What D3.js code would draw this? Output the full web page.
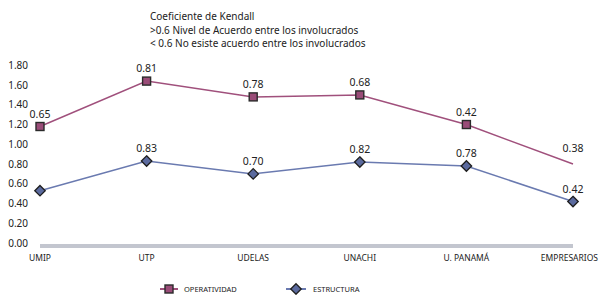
<!DOCTYPE html>
<html>
<head>
<meta charset="utf-8">
<script src="https://cdn.jsdelivr.net/npm/d3@7"></script>
<style>
  body { margin: 0; background: #fff; }
  svg { font-family: "Noto Sans", sans-serif; }
</style>
</head>
<body>
<svg id="chart"></svg>
<script>
const categories = ["UMIP", "UTP", "UDELAS", "UNACHI", "U. PANAMÁ", "EMPRESARIOS"];
const estructura = [0.53, 0.83, 0.70, 0.82, 0.78, 0.42];
const operatividad = [0.65, 0.81, 0.78, 0.68, 0.42, 0.38];
// which points carry a value label / marker in the original
const estructuraLabel = [false, true, true, true, true, true];
const operatividadMarker = [true, true, true, true, true, false];
const yTicks = [0, 0.2, 0.4, 0.6, 0.8, 1.0, 1.2, 1.4, 1.6, 1.8];
const titleLines = [
  "Coeficiente de Kendall",
  ">0.6 Nivel de Acuerdo entre los involucrados",
  "< 0.6 No esiste acuerdo entre los involucrados"
];

const width = 599, height = 295;
const colOp = "#a0507c", colOpFill = "#9a4c78";
const colEs = "#6a7ab0", colEsFill = "#5b6a9e";

const svg = d3.select("#chart").attr("width", width).attr("height", height);

const x = d3.scalePoint().domain(categories).range([40, 573]);
const y = d3.scaleLinear().domain([0, 1.8]).range([243, 65.3]);

// stacked values
const rows = categories.map((c, i) => ({
  cat: c,
  es: estructura[i],
  op: operatividad[i],
  top: estructura[i] + operatividad[i],
  i: i
}));

// title
svg.append("g").attr("class", "title")
  .selectAll("text")
  .data(titleLines)
  .enter()
  .append("text")
  .attr("x", 150)
  .attr("y", (d, i) => 20 + i * 13.5)
  .attr("font-size", 10)
  .attr("fill", "#222")
  .text((d) => d);

// y axis labels
svg.append("g").attr("class", "y-labels")
  .selectAll("text")
  .data(yTicks)
  .enter()
  .append("text")
  .attr("x", 28)
  .attr("y", (d) => y(d) + 3.5)
  .attr("text-anchor", "end")
  .attr("font-size", 10)
  .attr("fill", "#222")
  .text(d3.format(".2f"));

// floor
svg.append("rect")
  .attr("x", x(categories[0]))
  .attr("y", y(0) + 1)
  .attr("width", x(categories[categories.length - 1]) - x(categories[0]))
  .attr("height", 4)
  .attr("fill", "#c3c6cf");

// category labels (last one kept inside the frame)
const lastCat = categories[categories.length - 1];
svg.append("g").attr("class", "x-labels")
  .selectAll("text")
  .data(categories)
  .enter()
  .append("text")
  .attr("x", (d) => d === lastCat ? width - 1 : x(d))
  .attr("y", 261)
  .attr("text-anchor", (d) => d === lastCat ? "end" : "middle")
  .attr("font-size", 8.5)
  .attr("fill", "#222")
  .text((d) => d);

// lines
const lineEs = d3.line().x((d) => x(d.cat)).y((d) => y(d.es));
const lineOp = d3.line().x((d) => x(d.cat)).y((d) => y(d.top));

svg.append("path").datum(rows)
  .attr("d", lineEs).attr("fill", "none")
  .attr("stroke", colEs).attr("stroke-width", 1.5);
svg.append("path").datum(rows)
  .attr("d", lineOp).attr("fill", "none")
  .attr("stroke", colOp).attr("stroke-width", 1.5);

// markers
svg.append("g").selectAll("rect")
  .data(rows.filter((d) => operatividadMarker[d.i]))
  .enter()
  .append("rect")
  .attr("x", (d) => x(d.cat) - 4)
  .attr("y", (d) => y(d.top) - 4)
  .attr("width", 8).attr("height", 8)
  .attr("fill", colOpFill).attr("stroke", "#2a2a2a").attr("stroke-width", 1.4);

const diamond = d3.symbol().type(d3.symbolDiamond2).size(70);
svg.append("g").selectAll("path")
  .data(rows)
  .enter()
  .append("path")
  .attr("d", diamond)
  .attr("transform", (d) => `translate(${x(d.cat)},${y(d.es)})`)
  .attr("fill", colEsFill).attr("stroke", "#1e1e1e").attr("stroke-width", 1.3);

// value labels
svg.append("g").selectAll("text")
  .data(rows)
  .enter()
  .append("text")
  .attr("x", (d) => x(d.cat))
  .attr("y", (d) => y(d.top) - (operatividadMarker[d.i] ? 9 : 12))
  .attr("text-anchor", "middle")
  .attr("font-size", 10.5)
  .attr("fill", "#222")
  .text((d) => d3.format(".2f")(d.op));

svg.append("g").selectAll("text")
  .data(rows.filter((d) => estructuraLabel[d.i]))
  .enter()
  .append("text")
  .attr("x", (d) => x(d.cat))
  .attr("y", (d) => y(d.es) - 9)
  .attr("text-anchor", "middle")
  .attr("font-size", 10.5)
  .attr("fill", "#222")
  .text((d) => d3.format(".2f")(d.es));

// legend
const legend = svg.append("g").attr("class", "legend");
const legY = 289;
legend.append("line").attr("x1", 160).attr("x2", 178).attr("y1", legY).attr("y2", legY)
  .attr("stroke", colOp).attr("stroke-width", 2);
legend.append("rect").attr("x", 165).attr("y", legY - 4).attr("width", 8).attr("height", 8)
  .attr("fill", colOpFill).attr("stroke", "#2a2a2a").attr("stroke-width", 1.4);
legend.append("text").attr("x", 184).attr("y", legY + 3).attr("font-size", 7.5)
  .attr("fill", "#222").text("OPERATIVIDAD");
legend.append("line").attr("x1", 286).attr("x2", 306).attr("y1", legY).attr("y2", legY)
  .attr("stroke", colEs).attr("stroke-width", 2);
legend.append("path").attr("d", diamond)
  .attr("transform", `translate(296,${legY})`)
  .attr("fill", colEsFill).attr("stroke", "#1e1e1e").attr("stroke-width", 1.3);
legend.append("text").attr("x", 313).attr("y", legY + 3).attr("font-size", 7.5)
  .attr("fill", "#222").text("ESTRUCTURA");
</script>
</body>
</html>
